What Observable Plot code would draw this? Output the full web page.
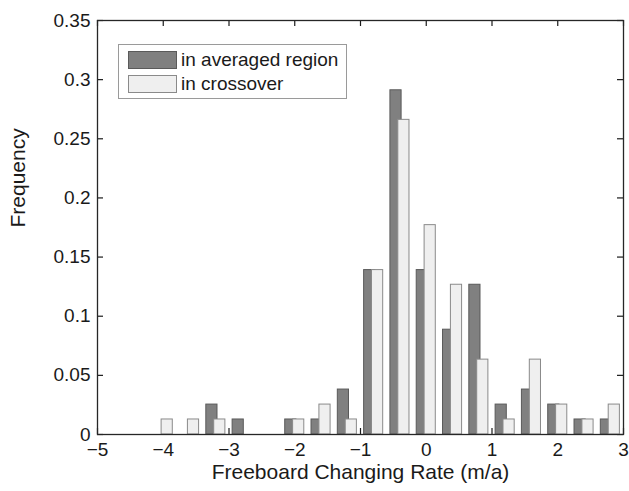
<!DOCTYPE html>
<html>
<head>
<meta charset="utf-8">
<script src="https://cdn.jsdelivr.net/npm/d3@7"></script>
<script src="https://cdn.jsdelivr.net/npm/@observablehq/plot@0.6"></script>
<style>
  html, body { margin: 0; padding: 0; background: #fff; }
  #wrap { position: relative; width: 629px; height: 491px; font-family: "Liberation Sans", Arial, sans-serif; }
  #legend { position: absolute; left: 118px; top: 44px; width: 229px; height: 55px; border: 1px solid #9a9a9a; background: #fff; box-sizing: border-box; }
  .row { position: absolute; left: 9px; display: flex; align-items: center; font-size: 19px; color: #1a1a1a; }
  .sw { width: 49px; height: 18px; box-sizing: border-box; margin-right: 4px; }
</style>
</head>
<body>
<div id="wrap"><div id="chart"></div><div id="legend"></div></div>
<script>
// Bin centres (width 0.4 from -5 to 3)
const binCenters = [-4.8, -4.4, -4.0, -3.6, -3.2, -2.8, -2.4, -2.0, -1.6, -1.2, -0.8, -0.4, 0.0, 0.4, 0.8, 1.2, 1.6, 2.0, 2.4, 2.8];
// Frequencies
const averagedRegion = [0, 0, 0, 0, 0.0253, 0.0127, 0, 0.0127, 0.0127, 0.038, 0.139, 0.291, 0.139, 0.0886, 0.1266, 0.0253, 0.038, 0.0253, 0.0127, 0.0127];
const crossover      = [0, 0, 0.0127, 0.0127, 0.0127, 0, 0, 0.0127, 0.0253, 0.0127, 0.139, 0.266, 0.177, 0.1266, 0.0633, 0.0127, 0.0633, 0.0253, 0.0127, 0.0253];
const seriesNames = ["in averaged region", "in crossover"];
const seriesFill = ["#808080", "#efefef"];
const seriesStroke = ["#5a5a5a", "#8a8a8a"];
const xTicks = [-5, -4, -3, -2, -1, 0, 1, 2, 3];
const yTicks = [0, 0.05, 0.1, 0.15, 0.2, 0.25, 0.3, 0.35];
const xLabel = "Freeboard Changing Rate (m/a)";
const yLabel = "Frequency";

const offset = 0.06, barW = 0.17;
const rows = [];
binCenters.forEach((c, i) => {
  rows.push({s: 0, x1: c - offset - barW / 2, x2: c - offset + barW / 2, y: averagedRegion[i]});
});
binCenters.forEach((c, i) => {
  rows.push({s: 1, x1: c + offset - barW / 2, x2: c + offset + barW / 2, y: crossover[i]});
});

const W = 629, H = 491, mL = 97, mR = 6, mT = 20, mB = 57;
const innerW = W - mL - mR, innerH = H - mT - mB;
const xMin = -5, xMax = 3, yMin = 0, yMax = 0.35;
const tl = 6; // tick length in px
const tlY = tl * (yMax - yMin) / innerH;  // in y data units
const tlX = tl * (xMax - xMin) / innerW;  // in x data units
const fmtX = d => d < 0 ? "\u2212" + Math.abs(d) : String(d);
const fmtY = d => String(+d.toFixed(2));
const ink = "#1a1a1a";

const chart = Plot.plot({
  width: W, height: H,
  marginLeft: mL, marginRight: mR, marginTop: mT, marginBottom: mB,
  style: {fontFamily: "'Liberation Sans', Arial, sans-serif", background: "#fff", color: ink},
  x: {domain: [xMin, xMax], axis: null},
  y: {domain: [yMin, yMax], axis: null},
  marks: [
    // inward ticks (drawn beneath bars)
    Plot.ruleX(xTicks, {x: d => d, y1: () => yMin, y2: () => yMin + tlY, stroke: ink, strokeWidth: 1.2}),
    Plot.ruleX(xTicks, {x: d => d, y1: () => yMax - tlY, y2: () => yMax, stroke: ink, strokeWidth: 1.2}),
    Plot.ruleY(yTicks, {y: d => d, x1: () => xMin, x2: () => xMin + tlX, stroke: ink, strokeWidth: 1.2}),
    Plot.ruleY(yTicks, {y: d => d, x1: () => xMax - tlX, x2: () => xMax, stroke: ink, strokeWidth: 1.2}),
    Plot.rectY(rows, {x1: "x1", x2: "x2", y1: () => 0, y2: "y",
      fill: d => seriesFill[d.s], stroke: d => seriesStroke[d.s], strokeWidth: 1}),
    Plot.frame({stroke: "#262626", strokeWidth: 1.3}),
    Plot.axisX({ticks: xTicks, tickSize: 0, tickPadding: 8, tickFormat: fmtX, fontSize: 19, label: null}),
    Plot.axisY({ticks: yTicks, tickSize: 0, tickPadding: 7, tickFormat: fmtY, fontSize: 19, label: null}),
    Plot.text([xLabel], {frameAnchor: "bottom", dy: 44, fontSize: 21, fill: ink}),
    Plot.text([yLabel], {frameAnchor: "left", dx: -79, rotate: -90, fontSize: 21, fill: ink})
  ]
});
document.getElementById("chart").appendChild(chart);

const legend = document.getElementById("legend");
seriesNames.forEach((name, i) => {
  const r = document.createElement("div");
  r.className = "row";
  r.style.top = (i === 0 ? 4 : 28) + "px";
  const sw = document.createElement("span");
  sw.className = "sw";
  sw.style.background = seriesFill[i];
  sw.style.border = "1px solid " + seriesStroke[i];
  r.appendChild(sw);
  const t = document.createElement("span");
  t.textContent = name;
  r.appendChild(t);
  legend.appendChild(r);
});
</script>
</body>
</html>
